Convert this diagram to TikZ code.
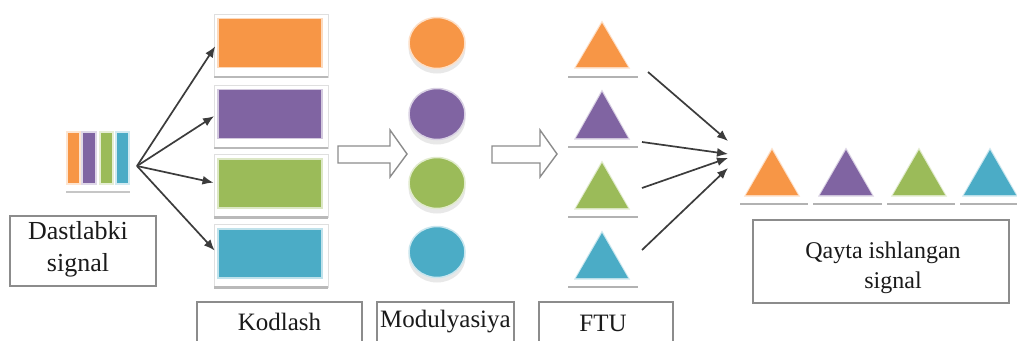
\documentclass[tikz,border=0pt]{standalone}
\usepackage{fontspec}
\setmainfont{Liberation Serif}
\newfontfamily\tnr{Liberation Serif}
\usetikzlibrary{shapes.geometric,arrows.meta}
\definecolor{cOr}{HTML}{F79646}
\definecolor{cPu}{HTML}{8064A2}
\definecolor{cGr}{HTML}{9BBB59}
\definecolor{cTe}{HTML}{4BACC6}
\definecolor{txt}{HTML}{1A1A1A}
\definecolor{frame}{HTML}{8C8C8C}
\tikzset{
  lbl/.style={draw=frame, line width=1.4pt, fill=white, text=txt, inner sep=0pt},
  ltxt/.style={text=txt, inner sep=0pt, font=\tnr\fontsize{25}{31}\selectfont},
  krect/.style={fill=#1, draw=#1!35, line width=1.2pt, minimum width=104pt, minimum height=49pt, inner sep=0pt},
  kframe/.style={draw=gray!25, line width=0.8pt},
  kbase/.style={draw=gray!55, line width=2.5pt},
  mcirc/.style={ellipse, fill=#1, draw=#1!30, line width=1.5pt, minimum width=56pt, minimum height=51pt, inner sep=0pt},
  mshadow/.style={ellipse, fill=#1!18, minimum width=57pt, minimum height=51pt, inner sep=0pt},
  tbase/.style={draw=gray!60, line width=2.2pt},
  fan/.style={draw=txt!85, line width=1.7pt, -{Latex[length=11pt,width=9pt]}},
  hollow/.style={draw=frame, line width=1.4pt, fill=white, line join=miter},
}
\newcommand\mytri[5]{% name, center x, apex y, base y, colour
  \fill[#5!30] (#2-28,#4+1.5) -- (#2,#3-2.5) -- (#2+28,#4+1.5) -- cycle;
  \fill[#5] (#2-26,#4) -- (#2,#3) -- (#2+26,#4) -- cycle;
  \coordinate (#1) at (#2,{(#3+#4)/2});
}
\begin{document}
\begin{tikzpicture}[x=1pt,y=-1pt]
\useasboundingbox (0,0) rectangle (1017,340);
\clip (0,0) rectangle (1017,340);
\fill[white] (0,0) rectangle (1017,340);

% ---------- original signal ----------
\fill[cOr!25] (66,131) rectangle (81,185);
\fill[cPu!25] (81,131) rectangle (97,185);
\fill[cGr!25] (99,131) rectangle (114,185);
\fill[cTe!25] (115,131) rectangle (130,185);
\fill[cOr] (68,133) rectangle (79,183);
\fill[cPu] (83,133) rectangle (95,183);
\fill[cGr] (101,133) rectangle (112,183);
\fill[cTe] (117,133) rectangle (128,183);
\draw[gray!45, line width=1.5pt] (66,192) -- (130,192);
\node[inner sep=0pt, minimum width=62pt, minimum height=52pt] (sig) at (98,158) {};
\coordinate (fo) at (137,166);

\node[lbl, minimum width=146pt, minimum height=70pt] (dast) at (83,251) {};
\node[ltxt, align=center, font=\tnr\fontsize{26}{32}\selectfont] at (78,249) {Dastlabki\\signal};

% ---------- Kodlash rectangles ----------
\foreach \cy/\c/\n in {43/cOr/k1, 114/cPu/k2, 183.5/cGr/k3, 253.5/cTe/k4}{
  \draw[kframe] (214,\cy-29) rectangle (328,\cy+34);
  \draw[kbase] (214,\cy+34) -- (328,\cy+34);
  \node[krect=\c] (\n) at (270,\cy) {};
}

% fan arrows
\foreach \n in {k1,k2,k3,k4}{
  \draw[fan, shorten >=4pt] (fo) -- (\n.west);
}

% ---------- hollow block arrows ----------
\draw[hollow] (338,146) -- (390,146) -- (390,130) -- (407,154) -- (390,177) -- (390,163) -- (338,163) -- cycle;
\draw[hollow] (492,146) -- (540,146) -- (540,130) -- (557,154) -- (540,177) -- (540,163) -- (492,163) -- cycle;

% ---------- Modulation circles ----------
\foreach \cy/\c/\n in {43/cOr/m1, 114/cPu/m2, 183/cGr/m3, 252/cTe/m4}{
  \node[mshadow=gray] at (437,\cy+5) {};
  \node[mcirc=\c] (\n) at (437,\cy) {};
}

% ---------- FTU triangles ----------
\mytri{t1}{602}{23}{67}{cOr}
\mytri{t2}{602}{92}{138}{cPu}
\mytri{t3}{602}{163}{208}{cGr}
\mytri{t4}{602}{233}{278}{cTe}
\draw[tbase] (568,77) -- (638,77);
\draw[tbase] (568,147) -- (638,147);
\draw[tbase] (568,217) -- (638,217);
\draw[tbase] (568,287) -- (638,287);

% converging arrows
\coordinate (f1) at (648,72);
\coordinate (f2) at (642,142);
\coordinate (f3) at (642,188);
\coordinate (f4) at (642,250);
\coordinate (c1) at (728,141);
\coordinate (c2) at (728,154);
\coordinate (c3) at (728,158);
\coordinate (c4) at (728,168);
\draw[fan] (f1) -- (c1);
\draw[fan] (f2) -- (c2);
\draw[fan] (f3) -- (c3);
\draw[fan] (f4) -- (c4);

% ---------- processed signal triangles ----------
\mytri{r1}{772}{150}{195}{cOr}
\mytri{r2}{846}{150}{195}{cPu}
\mytri{r3}{919}{150}{195}{cGr}
\mytri{r4}{990}{150}{195}{cTe}
\draw[tbase] (740,204) -- (808,204);
\draw[tbase] (813,204) -- (882,204);
\draw[tbase] (887,204) -- (955,204);
\draw[tbase] (960,204) -- (1017,204);

\node[lbl, minimum width=256pt, minimum height=83pt] (qayta) at (881,261.5) {};
\node[ltxt, align=center, font=\tnr\fontsize{24}{30}\selectfont] at (883,268) {Qayta ishlangan\\\hspace{20pt}signal};

% ---------- bottom labels ----------
\node[lbl, minimum width=165pt, minimum height=50pt] (kod) at (279.5,327) {};
\node[ltxt] at (279.5,322) {Kodlash};
\node[lbl, minimum width=137pt, minimum height=50pt] (mod) at (445.5,327) {};
\node[ltxt] at (445.5,322) {Modulyasiya};
\node[lbl, minimum width=134pt, minimum height=50pt] (ftu) at (606,327) {};
\node[ltxt] at (603,323) {FTU};
\end{tikzpicture}
\end{document}
